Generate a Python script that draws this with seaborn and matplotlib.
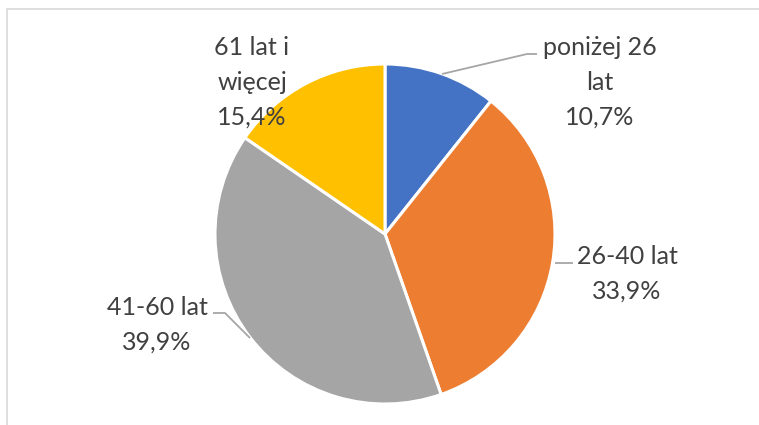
import matplotlib
matplotlib.use("Agg")
import matplotlib.pyplot as plt
from matplotlib.patches import Rectangle
import seaborn as sns

categories = ["poniżej 26\nlat", "26-40 lat", "41-60 lat", "61 lat i\nwięcej"]
values = [10.7, 33.9, 39.9, 15.4]
pct_labels = ["10,7%", "33,9%", "39,9%", "15,4%"]
colors = ["#4472C4", "#ED7D31", "#A5A5A5", "#FFC000"]

sns.set_theme(style="white")
plt.rcParams['font.family'] = ['Lato', 'DejaVu Sans']

W, H = 759, 425
fig = plt.figure(figsize=(W / 100, H / 100), dpi=100)
ax = fig.add_axes([0, 0, 1, 1])

palette = sns.color_palette(colors)
ax.pie(values, colors=palette, startangle=90, counterclock=False,
       center=(385, 191), radius=170,
       wedgeprops=dict(edgecolor="white", linewidth=2.2))

ax.set_xlim(0, W)
ax.set_ylim(0, H)
ax.set_aspect("equal")
ax.axis("off")

txt_color = "#404040"
fs = 18
label_pos = [(600, 343), (627, 151), (157, 100), (252, 343)]
for cat, pct, (x, y) in zip(categories, pct_labels, label_pos):
    ax.text(x, y, f"{cat}\n{pct}", ha="center", va="center", fontsize=fs,
            color=txt_color, linespacing=1.62)

lc = "#A6A6A6"
leaders = [
    ([442, 527, 537], [H - 74, H - 54, H - 54]),
    ([555, 573], [H - 263, H - 263]),
    ([250, 225, 213], [H - 338, H - 313, H - 313]),
]
for xs, ys in leaders:
    ax.plot(xs, ys, color=lc, lw=1.3, solid_capstyle="butt")

fig.patches.append(Rectangle((7 / W, -0.1), 1.2, (H - 9) / H + 0.1,
                             transform=fig.transFigure, fill=False,
                             edgecolor="#D9D9D9", lw=1.2))

fig.savefig("out.png", dpi=100)
